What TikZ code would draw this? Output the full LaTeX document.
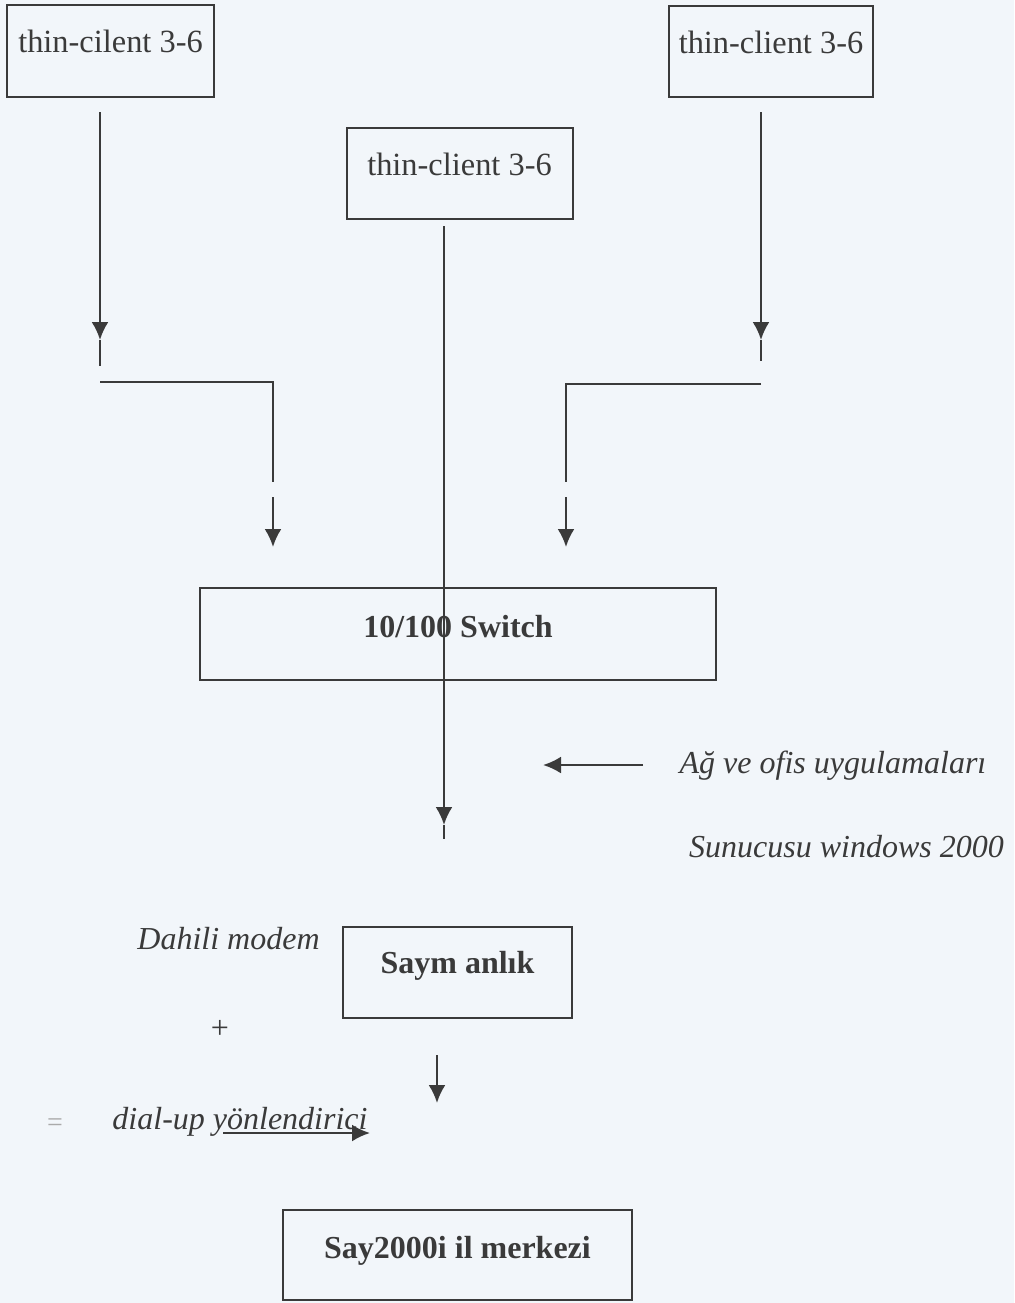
\documentclass[tikz,border=0pt]{standalone}
\usepackage{fontspec}
\setmainfont{Liberation Serif}
\usetikzlibrary{arrows.meta}
\definecolor{paper}{RGB}{242,246,250}
\definecolor{ink}{RGB}{58,58,58}
\definecolor{smudge}{RGB}{170,170,170}
\tikzset{
  box/.style={draw=ink, line width=1pt, rectangle, inner sep=0pt, text=ink,
              text height=12pt, text depth=11pt},
  clientbox/.style={box, font=\fontsize{16.2}{18}\selectfont},
  boldbox/.style={box, font=\fontsize{16}{18}\selectfont\bfseries},
  lbl/.style={text=ink, inner sep=0pt, anchor=base, font=\fontsize{16}{18}\selectfont\itshape},
  wire/.style={draw=ink, line width=1.2pt},
  arr/.style={wire, -{Latex[length=9pt,width=8.5pt]}},
}
\begin{document}
\begin{tikzpicture}[x=0.5pt,y=-0.5pt]
\fill[paper] (0,0) rectangle (1014,1303);
\useasboundingbox (0,0) rectangle (1014,1303);

% boxes
\node[clientbox, minimum width=103.5pt, minimum height=46pt, text depth=11pt] (tl) at (110.5,51) {thin-cilent 3-6};
\node[clientbox, minimum width=102pt, minimum height=45.5pt, text depth=10.5pt] (tr) at (771,51.5) {thin-client 3-6};
\node[clientbox, minimum width=113pt, minimum height=45.5pt, text depth=10.5pt] (tm) at (459.5,173.5) {thin-client 3-6};
\node[boldbox, minimum width=258pt, minimum height=46pt, text depth=9pt] (sw) at (458,634) {10/100 Switch};
\node[boldbox, minimum width=114.5pt, minimum height=45.5pt, text depth=11.5pt] (saym) at (457.5,972.5) {Saym anlık};
\node[boldbox, minimum width=174.5pt, minimum height=45pt, text depth=9pt] (say) at (457.5,1255) {Say2000i il merkezi};

% labels
\node[lbl] (ag) at (833,773) {Ağ ve ofis uygulamaları};
\node[lbl] (sun) at (846.5,857) {Sunucusu windows 2000};
\node[lbl] (dah) at (228.5,949) {Dahili modem};
\node[lbl, font=\fontsize{16}{18}\selectfont] (plus) at (220,1038) {+};
\node[lbl] (dial) at (240,1129) {dial-up yönlendirici};
\node[lbl, text=smudge, font=\fontsize{14}{16}\selectfont] (eq) at (55,1131) {=};

% left path
\coordinate (a1) at (100,112);
\coordinate (a2) at (100,340);
\coordinate (a3) at (100,366);
\coordinate (a4) at (100,382);
\coordinate (a5) at (273,382);
\coordinate (a6) at (273,482);
\coordinate (a7) at (273,497);
\coordinate (a8) at (273,547);
\draw[arr] (a1) -- (a2);
\draw[wire] (a2) -- (a3);
\draw[wire] (a4) -- (a5) -- (a6);
\draw[arr] (a7) -- (a8);

% right path
\coordinate (b1) at (761,112);
\coordinate (b2) at (761,340);
\coordinate (b3) at (761,361);
\coordinate (b4) at (761,384);
\coordinate (b5) at (566,384);
\coordinate (b6) at (566,482);
\coordinate (b7) at (566,497);
\coordinate (b8) at (566,547);
\draw[arr] (b1) -- (b2);
\draw[wire] (b2) -- (b3);
\draw[wire] (b4) -- (b5) -- (b6);
\draw[arr] (b7) -- (b8);

% centre line through switch
\coordinate (c1) at (444,226);
\coordinate (c2) at (444,825);
\coordinate (c3) at (444,839);
\draw[arr] (c1) -- (c2);
\draw[wire] (c2) -- (c3);

% Ag arrow
\coordinate (d1) at (643,765);
\coordinate (d2) at (543,765);
\draw[arr] (d1) -- (d2);

% Saym arrow
\coordinate (e1) at (437,1055);
\coordinate (e2) at (437,1103);
\draw[arr] (e1) -- (e2);

% underline arrow
\coordinate (f1) at (223,1133);
\coordinate (f2) at (370,1133);
\draw[arr] (f1) -- (f2);
\end{tikzpicture}
\end{document}
